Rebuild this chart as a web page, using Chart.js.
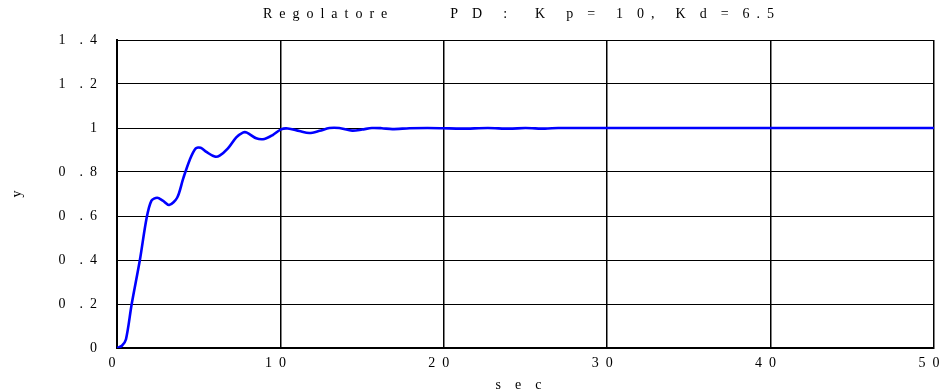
<!DOCTYPE html>
<html>
<head>
<meta charset="utf-8">
<script src="https://cdn.jsdelivr.net/npm/chart.js@4/dist/chart.umd.min.js"></script>
<style>
  html,body{margin:0;padding:0;background:#fff}
  #wrap{width:944px;height:389px}
</style>
</head>
<body>
<div id="wrap"><canvas id="c" width="944" height="389"></canvas></div>
<script>
// step response
const timeSec = [0, 0.3, 0.55, 0.9, 1.4, 1.81, 2.11, 2.46, 2.8, 3.19, 3.68, 4.05, 4.45, 4.82, 5.12, 5.5, 5.98, 6.28, 6.79, 7.3, 7.7, 7.95, 8.52, 9.02, 9.53, 10.04, 10.45, 11.16, 11.77, 12.4, 13.0, 13.6, 14.4, 15.0, 15.6, 16.2, 16.85, 17.9, 19.0, 19.9, 21.1, 22.7, 24.0, 25.0, 26.2, 27.0, 30, 35, 40, 45, 50];
const yOut    = [0, 0.01, 0.04, 0.20, 0.40, 0.59, 0.67, 0.683, 0.67, 0.65, 0.683, 0.77, 0.855, 0.907, 0.91, 0.89, 0.87, 0.874, 0.907, 0.957, 0.979, 0.979, 0.953, 0.95, 0.968, 0.994, 0.998, 0.986, 0.977, 0.987, 1.0, 1.0, 0.988, 0.993, 1.0, 0.999, 0.995, 0.999, 1.0, 0.999, 0.997, 1.0, 0.997, 1.0, 0.997, 1.0, 1, 1, 1, 1, 1];

const EN = '\u2002', EM = '\u2003';
const xTickValues = [0, 10, 20, 30, 40, 50];
const xTickLabels = ['0', '1'+EN+'0', '2'+EN+'0', '3'+EN+'0', '4'+EN+'0', '5'+EN+'0'];
const yTickValues = [0, 0.2, 0.4, 0.6, 0.8, 1, 1.2, 1.4];
const yTickLabels = ['0', '0'+EM+'.'+EN+'2', '0'+EM+'.'+EN+'4', '0'+EM+'.'+EN+'6', '0'+EM+'.'+EN+'8', '1', '1'+EM+'.'+EN+'2', '1'+EM+'.'+EN+'4'];

const titleText = 'R'+EN+'e'+EN+'g'+EN+'o'+EN+'l'+EN+'a'+EN+'t'+EN+'o'+EN+'r'+EN+'e' + EM+EM+EM+EM+EN +
  'P'+EM+'D' + EM+EN + ':' + EM+EM + 'K'+EM+EN+'p'+EM+'='+EM+EN+'1'+EM+'0'+EN+',' + EM+EN +
  'K'+EM+'d'+EM+'='+EM+'6'+EN+'.'+EN+'5';
const xTitle = 's'+EM+'e'+EM+'c'+EM;

const serif = 'Liberation Serif';
const pts = timeSec.map((t, i) => ({x: t, y: yOut[i]}));

const pickLabel = (vals, labels) => v => {
  const i = vals.findIndex(a => Math.abs(a - v) < 1e-6);
  return i < 0 ? '' : labels[i];
};

// title drawn over the plot centre (a bit left of it, like the original)
const topTitle = {
  id: 'topTitle',
  afterDraw(chart) {
    const ctx = chart.ctx, a = chart.chartArea;
    ctx.save();
    ctx.font = '14px "' + serif + '"';
    ctx.fillStyle = '#000';
    ctx.textAlign = 'center';
    ctx.textBaseline = 'middle';
    ctx.fillText(titleText, (a.left + a.right) / 2 - 7, 14);
    ctx.restore();
  }
};

new Chart(document.getElementById('c').getContext('2d'), {
  type: 'line',
  data: {datasets: [{data: pts, borderColor: '#0000ff', borderWidth: 2.6, pointRadius: 0, tension: 0.3, fill: false}]},
  options: {
    responsive: false, animation: false,
    layout: {padding: {top: 40, right: 10, bottom: 0, left: 0}},
    plugins: {legend: {display: false}, tooltip: {enabled: false}, title: {display: false}},
    scales: {
      x: {
        type: 'linear', min: 0, max: 50,
        afterBuildTicks: s => { s.ticks = xTickValues.map(v => ({value: v})); },
        afterFit: s => { s.height = 41; s.paddingLeft = 0; s.paddingRight = 0; },
        ticks: {color: '#000', font: {family: serif, size: 14}, padding: 7, labelOffset: -5, maxRotation: 0, autoSkip: false, callback: pickLabel(xTickValues, xTickLabels)},
        grid: {color: '#000', lineWidth: 1.5, drawTicks: false},
        border: {color: '#000', width: 2},
        title: {display: true, text: xTitle, color: '#000', font: {family: serif, size: 14}, padding: {top: 10, bottom: -5}}
      },
      y: {
        min: 0, max: 1.4,
        afterBuildTicks: s => { s.ticks = yTickValues.map(v => ({value: v})); },
        afterFit: s => { s.width = 117; },
        ticks: {color: '#000', font: {family: serif, size: 14}, padding: 20, autoSkip: false, callback: pickLabel(yTickValues, yTickLabels)},
        grid: {color: '#000', lineWidth: 1, drawTicks: false},
        border: {color: '#000', width: 2},
        title: {display: true, text: 'y', color: '#000', font: {family: serif, size: 14}, padding: {top: 9, bottom: 0}}
      }
    }
  },
  plugins: [topTitle]
});
</script>
</body>
</html>
